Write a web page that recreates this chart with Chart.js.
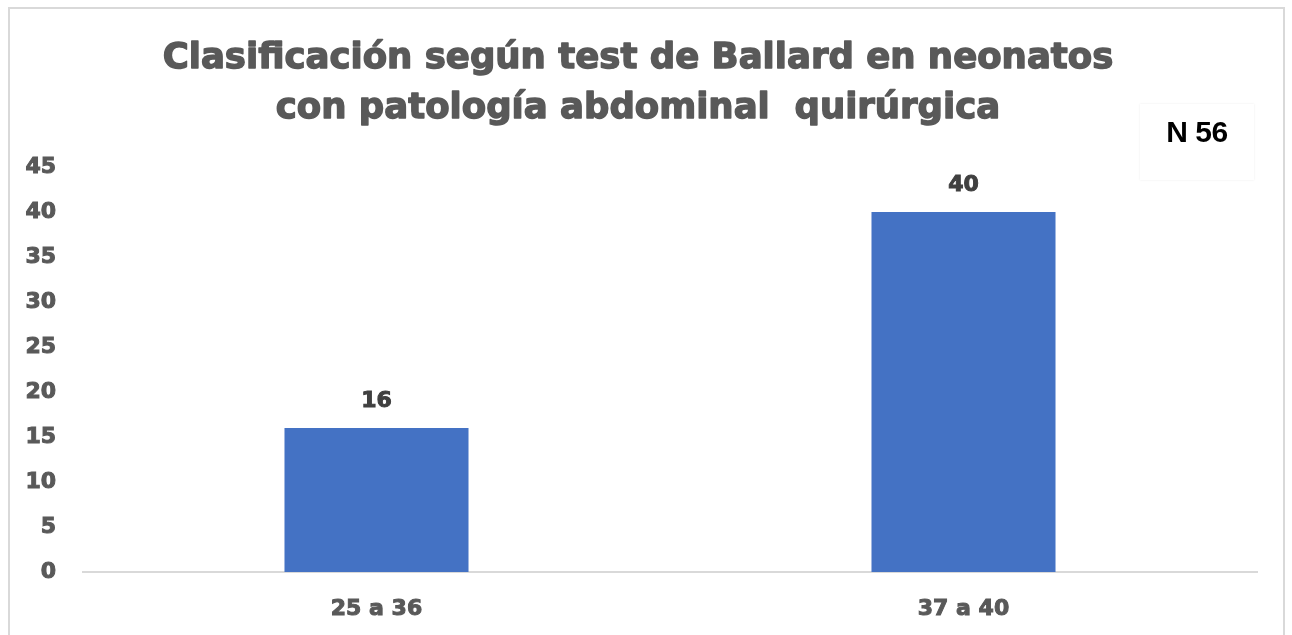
<!DOCTYPE html>
<html><head><meta charset="utf-8">
<script src="https://cdn.jsdelivr.net/npm/chart.js@4.4.0/dist/chart.umd.min.js"></script>
<style>
html,body{margin:0;padding:0;background:#fff;overflow:hidden;}
#frame{position:absolute;left:8px;top:7px;width:1277px;height:700px;border:2px solid #d9d9d9;box-sizing:border-box;}
#wrap{position:absolute;left:0;top:0;width:1292px;height:635px;}
#nbox{position:absolute;left:1140px;top:104px;width:114px;height:76px;background:#fff;box-shadow:0 0 2px rgba(0,0,0,0.08);font-family:"Liberation Sans",Arial,sans-serif;font-weight:bold;font-size:30px;color:#000;text-align:center;line-height:56px;letter-spacing:-0.5px;}
</style></head>
<body>
<div id="frame"></div>
<div id="wrap"><canvas id="c" width="1292" height="635"></canvas></div>
<div id="nbox">N 56</div>
<script>
const categories = ["25 a 36", "37 a 40"];
const values = [16, 40];
const yTicks = [0, 5, 10, 15, 20, 25, 30, 35, 40, 45];
const titleLines = ["Clasificación según test de Ballard en neonatos", "con patología abdominal  quirúrgica"];

const FONT = "'DejaVu Sans', sans-serif";
const TITLE_SIZE = 35.5;
const TITLE_LH = 1.408;

const labelsPlugin = {
  id: 'valueLabels',
  afterDatasetsDraw(chart) {
    const ctx = chart.ctx;
    const meta = chart.getDatasetMeta(0);
    ctx.save();
    ctx.font = "bold 22px " + FONT;
    ctx.fillStyle = "#404040";
    ctx.strokeStyle = "#404040";
    ctx.lineWidth = 1;
    ctx.textAlign = "center";
    ctx.textBaseline = "middle";
    meta.data.forEach((bar, i) => {
      const p = bar.getProps(['x', 'y'], true);
      const t = String(chart.data.datasets[0].data[i]);
      ctx.fillText(t, p.x, p.y - 27);
      ctx.strokeText(t, p.x, p.y - 27);
    });
    ctx.restore();
  }
};

const heavyTitle = {
  id: 'heavyTitle',
  afterDraw(chart) {
    const tb = chart.titleBlock;
    if (!tb) return;
    const ctx = chart.ctx;
    const lh = TITLE_SIZE * TITLE_LH;
    const cx = (tb.left + tb.right) / 2;
    const top = tb.top + tb.options.padding.top;
    ctx.save();
    ctx.font = "bold " + TITLE_SIZE + "px " + FONT;
    ctx.fillStyle = "#595959";
    ctx.strokeStyle = "#595959";
    ctx.lineWidth = 1.4;
    ctx.lineJoin = "round";
    ctx.textAlign = "center";
    ctx.textBaseline = "middle";
    titleLines.forEach((t, i) => {
      const y = top + lh * i + lh / 2;
      ctx.fillText(t, cx, y);
      ctx.strokeText(t, cx, y);
    });
    ctx.restore();
  }
};

new Chart(document.getElementById('c'), {
  type: 'bar',
  data: {
    labels: categories,
    datasets: [{
      data: values,
      backgroundColor: '#4472C4',
      borderWidth: 0,
      barPercentage: 0.3135,
      categoryPercentage: 1.0
    }]
  },
  options: {
    responsive: false,
    animation: false,
    events: [],
    layout: { padding: { left: 19, right: 35, top: 0, bottom: 0 } },
    plugins: {
      legend: { display: false },
      tooltip: { enabled: false },
      title: {
        display: true,
        text: titleLines,
        color: 'rgba(0,0,0,0)',
        font: { family: FONT, weight: 'bold', size: TITLE_SIZE, lineHeight: TITLE_LH },
        padding: { top: 34, bottom: 33 }
      }
    },
    scales: {
      x: {
        grid: { display: false, drawTicks: false },
        border: { display: true, color: '#d9d9d9', width: 2 },
        ticks: { color: '#595959', textStrokeColor: '#595959', textStrokeWidth: 1, font: { family: FONT, weight: 'bold', size: 22 }, padding: 24 },
        afterFit(s) { s.height = 63; }
      },
      y: {
        min: 0, max: 45,
        afterBuildTicks(s) { s.ticks = yTicks.map(v => ({ value: v })); },
        grid: { display: false, drawTicks: false },
        border: { display: false },
        ticks: { color: '#595959', textStrokeColor: '#595959', textStrokeWidth: 1, font: { family: FONT, weight: 'bold', size: 22 }, padding: 27 },
        afterFit(s) { s.width = 64; }
      }
    }
  },
  plugins: [labelsPlugin, heavyTitle]
});
</script>
</body></html>
